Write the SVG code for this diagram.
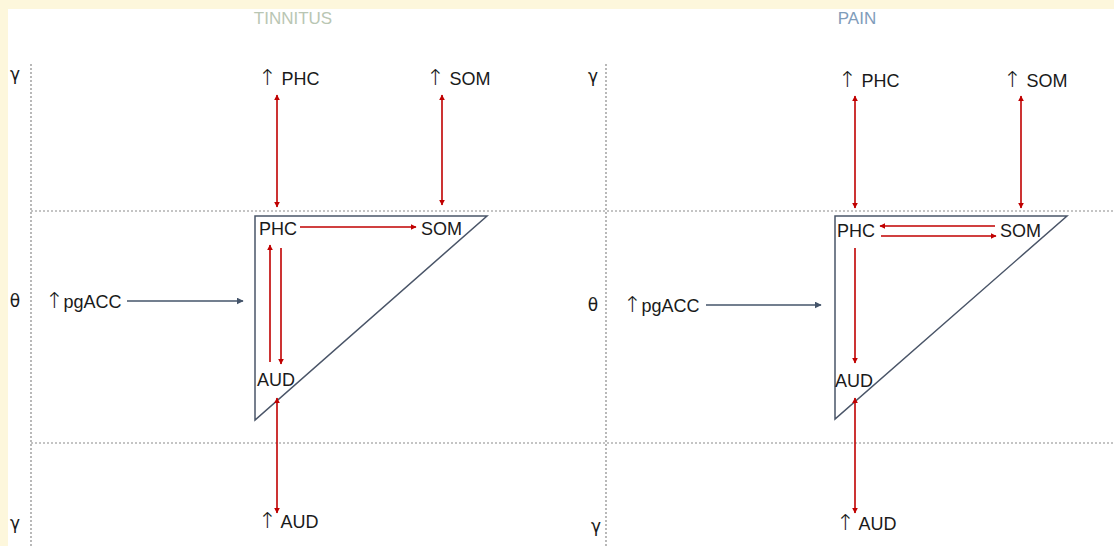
<svg xmlns="http://www.w3.org/2000/svg" width="1114" height="546" viewBox="0 0 1114 546">
<style>
.t{font-family:"Liberation Sans",Arial,sans-serif;font-size:18px;fill:#1a1a1a}
.a{font-family:"DejaVu Sans",sans-serif;font-size:22px;font-weight:300}
.g{font-family:"DejaVu Sans","Liberation Sans",sans-serif;font-size:17px;fill:#1a1a1a}
.dot{stroke:#8a8a8a;stroke-width:1.2;stroke-dasharray:2 2;fill:none}
.red{stroke:#c00000;stroke-width:1.6;fill:none}
.blue{stroke:#44546a;stroke-width:1.6;fill:none}
.tri{stroke:#4a5568;stroke-width:1.5;fill:none}
</style>
<defs>
<marker id="ar" viewBox="0 0 10 10" refX="9" refY="5" markerWidth="6" markerHeight="6" orient="auto-start-reverse" markerUnits="userSpaceOnUse">
<path d="M0,0 L10,5 L0,10 z" fill="#c00000"/>
</marker>
<marker id="ab" viewBox="0 0 10 10" refX="9" refY="5" markerWidth="7" markerHeight="7" orient="auto" markerUnits="userSpaceOnUse">
<path d="M0,0 L10,5 L0,10 z" fill="#44546a"/>
</marker>
</defs>
<rect width="1114" height="546" fill="#fff"/>
<rect width="1114" height="9" fill="#fdf7dc"/>
<rect width="8" height="546" fill="#fdf7dc"/>

<g id="grid">
<line class="dot" x1="31" y1="64" x2="31" y2="546"/>
<line class="dot" x1="606" y1="64" x2="606" y2="546"/>
<line class="dot" x1="31" y1="211" x2="1114" y2="211"/>
<line class="dot" x1="31" y1="443" x2="1114" y2="443"/>
</g>

<g id="titles">
<text x="293" y="24" text-anchor="middle" style="font-family:'Liberation Sans',Arial,sans-serif;font-size:17px;fill:#b9c6b3">TINNITUS</text>
<text x="857" y="24" text-anchor="middle" style="font-family:'Liberation Sans',Arial,sans-serif;font-size:17px;fill:#7f9cba">PAIN</text>
</g>

<g id="bands">
<text class="g" x="15" y="80" text-anchor="middle">γ</text>
<text class="g" x="15" y="307" text-anchor="middle">θ</text>
<text class="g" x="15" y="529" text-anchor="middle">γ</text>
<text class="g" x="593" y="82" text-anchor="middle">γ</text>
<text class="g" x="593" y="311" text-anchor="middle">θ</text>
<text class="g" x="596" y="532" text-anchor="middle">γ</text>
</g>

<!-- Tinnitus panel -->
<g id="t-triangle"><polygon class="tri" points="255,216 487,216 255,420"/></g>
<g id="t-phc-top"><text class="t" x="258" y="85"><tspan class="a">↑</tspan> PHC</text></g>
<g id="t-som-top"><text class="t" x="426" y="85"><tspan class="a">↑</tspan> SOM</text></g>
<g id="t-aud-bot"><text class="t" x="258" y="528"><tspan class="a">↑</tspan> AUD</text></g>
<g id="t-pgacc"><text class="t" x="45" y="308"><tspan class="a">↑</tspan>pgACC</text></g>
<g id="t-phc"><text class="t" x="259" y="235">PHC</text></g>
<g id="t-som"><text class="t" x="421" y="235">SOM</text></g>
<g id="t-aud"><text class="t" x="257" y="386">AUD</text></g>

<!-- Pain panel -->
<g id="p-triangle"><polygon class="tri" points="835,216 1067,216 835,419"/></g>
<g id="p-phc-top"><text class="t" x="838" y="87"><tspan class="a">↑</tspan> PHC</text></g>
<g id="p-som-top"><text class="t" x="1003" y="87"><tspan class="a">↑</tspan> SOM</text></g>
<g id="p-aud-bot"><text class="t" x="836" y="530"><tspan class="a">↑</tspan> AUD</text></g>
<g id="p-pgacc"><text class="t" x="623" y="312"><tspan class="a">↑</tspan>pgACC</text></g>
<g id="p-phc"><text class="t" x="837" y="237">PHC</text></g>
<g id="p-som"><text class="t" x="1000" y="237">SOM</text></g>
<g id="p-aud"><text class="t" x="835" y="387">AUD</text></g>

<g id="connectors">
<!-- tinnitus -->
<line class="red" x1="277" y1="95" x2="277" y2="207" marker-start="url(#ar)" marker-end="url(#ar)"/>
<line class="red" x1="442" y1="95" x2="442" y2="205" marker-start="url(#ar)" marker-end="url(#ar)"/>
<line class="red" x1="300" y1="227" x2="416" y2="227" marker-end="url(#ar)"/>
<line class="red" x1="270" y1="362" x2="270" y2="245" marker-end="url(#ar)"/>
<line class="red" x1="281" y1="248" x2="281" y2="364" marker-end="url(#ar)"/>
<line class="red" x1="277" y1="398" x2="277" y2="513" marker-start="url(#ar)" marker-end="url(#ar)"/>
<line class="blue" x1="127" y1="301" x2="243" y2="301" marker-end="url(#ab)"/>
<!-- pain -->
<line class="red" x1="855" y1="96" x2="855" y2="208" marker-start="url(#ar)" marker-end="url(#ar)"/>
<line class="red" x1="1021" y1="96" x2="1021" y2="208" marker-start="url(#ar)" marker-end="url(#ar)"/>
<line class="red" x1="995" y1="226" x2="880" y2="226" marker-end="url(#ar)"/>
<line class="red" x1="881" y1="236" x2="996" y2="236" marker-end="url(#ar)"/>
<line class="red" x1="855" y1="248" x2="855" y2="363" marker-end="url(#ar)"/>
<line class="red" x1="855" y1="398" x2="855" y2="513" marker-start="url(#ar)" marker-end="url(#ar)"/>
<line class="blue" x1="706" y1="305" x2="821" y2="305" marker-end="url(#ab)"/>
</g>
</svg>
